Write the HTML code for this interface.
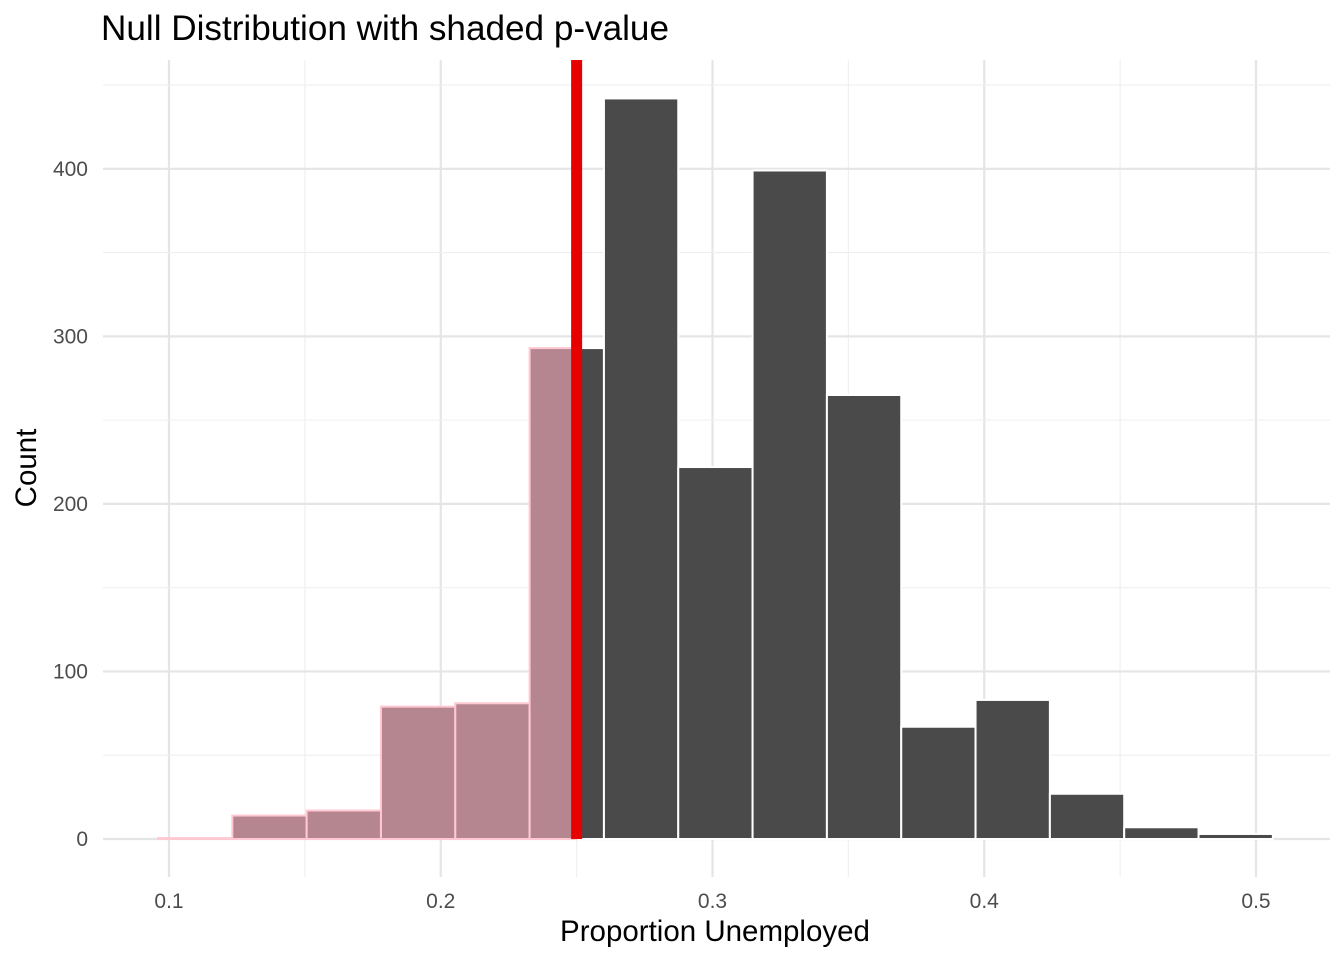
<!DOCTYPE html>
<html><head><meta charset="utf-8"><style>body{margin:0;background:#fff}svg text{font-family:"Liberation Sans",sans-serif}</style></head>
<body>
<svg id="chart" width="1344" height="960" xmlns="http://www.w3.org/2000/svg">
<text x="101" y="40" font-size="35" fill="#000" textLength="568" lengthAdjust="spacingAndGlyphs">Null Distribution with shaded p-value</text>
<g id="grid"></g><g id="bars"></g><g id="axes"></g>
<text x="715" y="941" font-size="29.5" text-anchor="middle" fill="#000">Proportion Unemployed</text>
<text transform="translate(36,468) rotate(-90)" font-size="29.5" text-anchor="middle" fill="#000">Count</text>
</svg>
<script>
const binStart = 0.09595;
const binWidth = 0.02735;
const counts = [0.5, 14, 17, 79, 81, 293, 442, 222, 399, 265, 67, 83, 27, 7, 3];
const xTicks = [0.1, 0.2, 0.3, 0.4, 0.5];
const xTickLabels = ["0.1", "0.2", "0.3", "0.4", "0.5"];
const yTicks = [0, 100, 200, 300, 400];
const observed = 0.25;
const NS = "http://www.w3.org/2000/svg";
const xs = v => 169 + (v - 0.1) * 2717.5;
const ys = v => 839 - v * 1.6755;
const PT = 60, PB = 877, PL = 103, PR = 1330;
function mk(tag, attrs, parent) { const e = document.createElementNS(NS, tag); for (const k in attrs) e.setAttribute(k, attrs[k]); parent.appendChild(e); return e; }
const grid = document.getElementById('grid'), bars = document.getElementById('bars'), axes = document.getElementById('axes');
for (let i = 0; i < xTicks.length; i++) {
  const x = xs(xTicks[i]);
  const l = mk('line', {x1: x, x2: x, y1: PT, y2: PB, stroke: '#e5e5e5', 'stroke-width': 2.2}, grid);
  
  
  if (i < xTicks.length - 1) {
    const xm = xs((xTicks[i] + xTicks[i + 1]) / 2);
    const m = mk('line', {x1: xm, x2: xm, y1: PT, y2: PB, stroke: '#efefef', 'stroke-width': 1.1}, grid);
    
    
  }
  const t = mk('text', {x: x, y: 908, 'font-size': 21, fill: '#4d4d4d', 'text-anchor': 'middle'}, axes);
  t.textContent = xTickLabels[i];
  
  
}
for (let i = 0; i < yTicks.length; i++) {
  const y = ys(yTicks[i]);
  const l = mk('line', {x1: PL, x2: PR, y1: y, y2: y, stroke: '#e5e5e5', 'stroke-width': 2.2}, grid);
  
  
  const ym = ys(yTicks[i] + 50);
  const m = mk('line', {x1: PL, x2: PR, y1: ym, y2: ym, stroke: '#efefef', 'stroke-width': 1.1}, grid);
  
  
  const t = mk('text', {x: 88, y: y + 7, 'font-size': 21, fill: '#4d4d4d', 'text-anchor': 'end'}, axes);
  t.textContent = yTicks[i];
  
  
}
const xo = xs(observed);
for (let i = 0; i < counts.length; i++) {
  const a = binStart + i * binWidth, b = a + binWidth;
  const x0 = xs(a), x1 = xs(b), y = ys(counts[i]), h = ys(0) - y;
  if (x1 > xo) {
    const s = Math.max(x0, xo);
    const r = mk('rect', {x: s, y: y, width: x1 - s, height: h, fill: '#4a4a4a', stroke: '#fff', 'stroke-width': 2}, bars);
    
    
  }
  if (x0 < xo) {
    const e = Math.min(x1, xo);
    const r = mk('rect', {x: x0, y: y, width: e - x0, height: h, fill: '#b5868f', stroke: '#ffc8d2', 'stroke-width': 2}, bars);
    
    
  }
}
const v = mk('line', {x1: xo, x2: xo, y1: PT, y2: ys(0), stroke: '#e60000', 'stroke-width': 11}, bars);


</script>
</body></html>
